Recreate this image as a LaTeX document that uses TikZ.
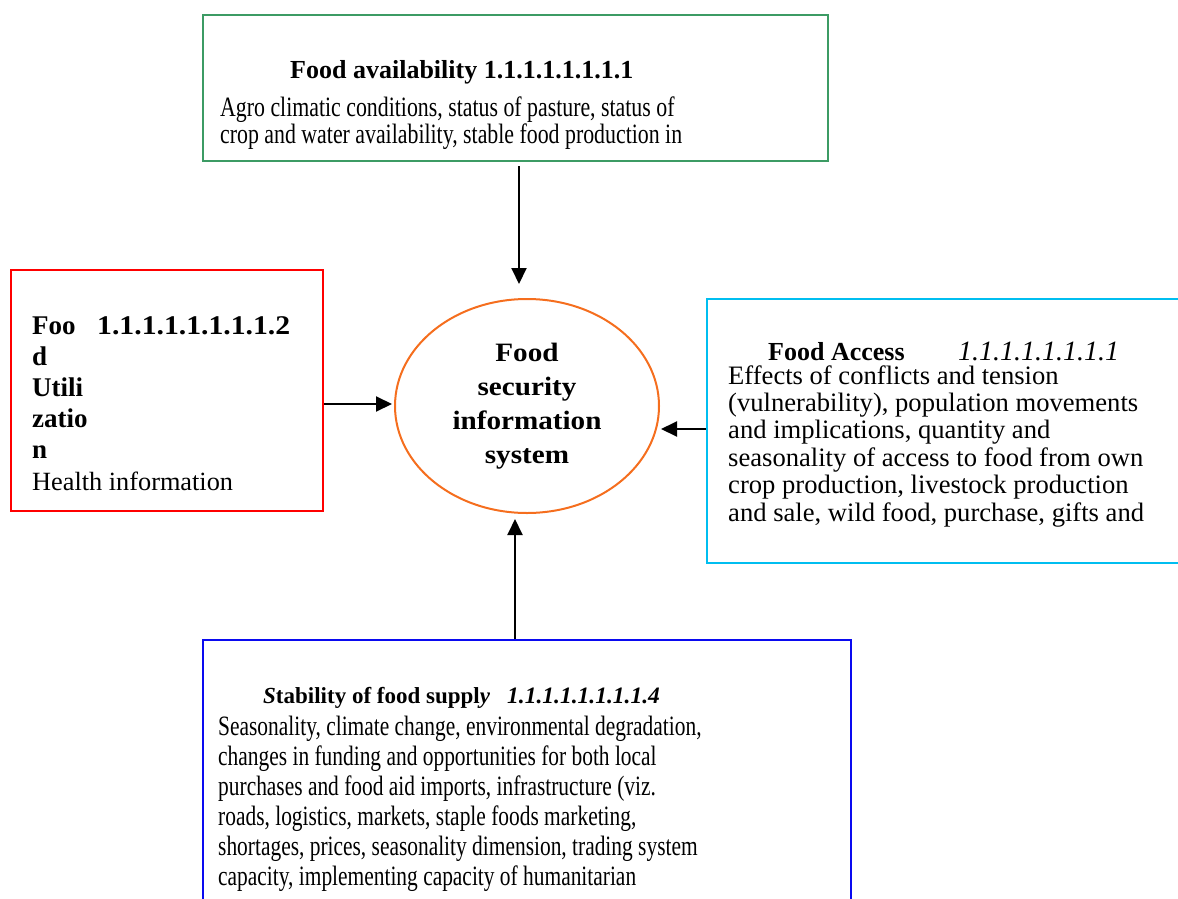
\documentclass[tikz,border=0pt]{standalone}
\usepackage{fontspec}
\setmainfont{Liberation Serif}
\newfontfamily\narrowtop[FakeStretch=0.78]{Liberation Serif}
\newfontfamily\narrowbot[FakeStretch=0.765]{Liberation Serif}
\newfontfamily\wideserif[FakeStretch=1.1]{Liberation Serif}
\usetikzlibrary{shapes.geometric,arrows.meta}

\definecolor{availgreen}{RGB}{60,155,100}
\definecolor{utilred}{RGB}{255,0,0}
\definecolor{accesscyan}{RGB}{0,190,240}
\definecolor{supplyblue}{RGB}{10,10,240}
\definecolor{huborange}{RGB}{245,110,30}

\begin{document}
\begin{tikzpicture}[x=1pt,y=-1pt,
  box/.style={draw=#1,line width=2pt,inner sep=0pt},
  txt/.style={anchor=base west,inner sep=0pt,align=left},
  arr/.style={line width=2pt,-{Triangle[length=16pt,width=15pt]}}]
  \useasboundingbox (0,0) rectangle (1178,899);

  % the four pillars and the hub
  \node[box=availgreen,minimum width=625pt,minimum height=146pt] (avail) at (515.5,88) {};
  \node[box=utilred,minimum width=312pt,minimum height=241pt] (util) at (167,390.5) {};
  \node[box=accesscyan,minimum width=483pt,minimum height=264pt] (access) at (948.5,431) {};
  \node[box=supplyblue,minimum width=648pt,minimum height=270pt] (supply) at (527,775) {};
  \node[ellipse,draw=huborange,line width=2pt,minimum width=264pt,minimum height=214pt,inner sep=0pt,
        align=center,font=\wideserif\fontsize{26.5}{34}\selectfont\bfseries] (hub) at (527,406)
        {Food\\security\\information\\system};

  % texts (multi-line ones sit on their last baseline)
  \node[txt,font=\fontsize{26}{26}\selectfont\bfseries] (availhead) at (290,78) {Food availability 1.1.1.1.1.1.1.1};
  \node[txt,font=\narrowtop\fontsize{28}{27.3}\selectfont] (availtext) at (220,143.3)
    {Agro climatic conditions, status of pasture, status of\\crop and water availability, stable food production in};

  \node[txt,font=\fontsize{27}{31}\selectfont\bfseries] (utilhead) at (32,458) {Foo\\d\\Utili\\zatio\\n};
  \node[txt,font=\wideserif\fontsize{27}{27}\selectfont\bfseries] (utilnum) at (97,334) {1.1.1.1.1.1.1.1.2};
  \node[txt,font=\fontsize{26.3}{26.3}\selectfont] (utiltext) at (32,490) {Health information};

  \node[txt,font=\fontsize{26}{26}\selectfont\bfseries] (accesshead) at (768,360) {Food Access};
  \node[txt,font=\fontsize{28}{28}\selectfont\itshape] (accessnum) at (958,360) {1.1.1.1.1.1.1.1};
  \node[txt,font=\fontsize{26.6}{27.4}\selectfont] (accesstext) at (728,521)
    {Effects of conflicts and tension\\(vulnerability), population movements\\and implications, quantity and\\%
     seasonality of access to food from own\\crop production, livestock production\\and sale, wild food, purchase, gifts and};

  \node[txt,font=\fontsize{23}{23}\selectfont\bfseries] (supplyhead) at (263,703) {\textit{S}tability of food suppl\textit{y}};
  \node[txt,font=\fontsize{23.5}{24}\selectfont\bfseries\itshape] (supplynum) at (507,703) {1.1.1.1.1.1.1.1.4};
  \node[txt,font=\narrowbot\fontsize{28}{30}\selectfont] (supplytext) at (218,885)
    {Seasonality, climate change, environmental degradation,\\changes in funding and opportunities for both local\\%
     purchases and food aid imports, infrastructure (viz.\\roads, logistics, markets, staple foods marketing,\\%
     shortages, prices, seasonality dimension, trading system\\capacity, implementing capacity of humanitarian};

  % connectors into the hub
  \draw[arr] ([xshift=3.5pt,yshift=-4pt]avail.south) -- ([xshift=-8pt,yshift=14pt]hub.north);
  \draw[arr] ([yshift=-13.5pt]util.east) -- ([xshift=-2pt,yshift=2pt]hub.west);
  \draw[arr] ([yshift=2pt]access.west) -- ([xshift=1pt,yshift=-23pt]hub.east);
  \draw[arr] ([xshift=-12pt]supply.north) -- ([xshift=-12pt,yshift=-5pt]hub.south);
\end{tikzpicture}
\end{document}
